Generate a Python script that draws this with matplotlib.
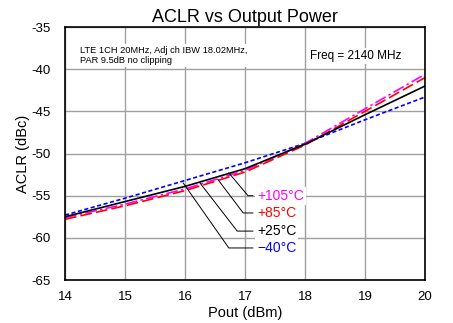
import matplotlib
matplotlib.use("Agg")
import matplotlib.pyplot as plt

plt.rcParams["font.family"] = ["Liberation Sans", "DejaVu Sans"]
plt.rcParams["axes.unicode_minus"] = False

pout = [14, 15, 16, 17, 18, 19, 20]
aclr_m40 = [-57.3, -55.3, -53.2, -51.1, -48.8, -46.0, -43.3]
aclr_p25 = [-57.5, -55.7, -53.9, -51.8, -48.9, -45.4, -42.0]
aclr_p85 = [-57.8, -56.2, -54.4, -52.2, -49.0, -45.0, -41.0]
aclr_p105 = [-57.6, -56.0, -54.2, -52.0, -48.8, -44.7, -40.6]

labels = ["+105°C", "+85°C", "+25°C", "\u221240°C"]
colors = ["#ff00ff", "#ff0000", "#000000", "#0000ff"]
# leader lines: point on curve, knee (at label height)
lead_start = [(16.73, -52.3), (16.55, -53.1), (16.25, -53.5), (15.97, -53.5)]
lead_knee = [(17.05, -55.0), (16.97, -57.05), (16.87, -59.2), (16.73, -61.2)]

fig = plt.figure(figsize=(4.53, 3.23), dpi=100)
ax = fig.add_axes([0.1435, 0.1331, 0.7947, 0.7833])

ax.plot(pout, aclr_m40, color="#0000ff", lw=1.2, ls=(0, (2.5, 1.5)))
ax.plot(pout, aclr_p105, color="#ff00ff", lw=1.2, ls=(0, (7, 2, 1.5, 2)))
ax.plot(pout, aclr_p85, color="#ff0000", lw=1.2, ls=(0, (7, 2.5)))
ax.plot(pout, aclr_p25, color="#000000", lw=1.2)

for lab, col, s, k in zip(labels, colors, lead_start, lead_knee):
    ax.plot([s[0], k[0], 17.13], [s[1], k[1], k[1]], color="black", lw=0.7)
    ax.text(17.2, k[1], lab, color=col, fontsize=10, va="center", ha="left",
            bbox=dict(facecolor="white", edgecolor="none", pad=1.5), zorder=4)

ax.text(14.25, -37.2, "LTE 1CH 20MHz, Adj ch IBW 18.02MHz,\nPAR 9.5dB no clipping",
        fontsize=6.7, va="top", ha="left", linespacing=1.2,
        bbox=dict(facecolor="white", edgecolor="none", pad=1.5), zorder=4)
ax.text(18.08, -38.4, "Freq = 2140 MHz", fontsize=8.5, va="center", ha="left",
        bbox=dict(facecolor="white", edgecolor="none", pad=1.5), zorder=4)

ax.set_xlim(14, 20)
ax.set_ylim(-65, -35)
ax.set_xticks(range(14, 21))
ax.set_yticks(range(-65, -34, 5))
ax.grid(True, color="#a0a0a0", lw=1.0)
ax.set_axisbelow(True)
ax.tick_params(length=0, labelsize=9.5)
ax.tick_params(axis="x", pad=8)
ax.tick_params(axis="y", pad=10)
for sp in ax.spines.values():
    sp.set_linewidth(1.2)

ax.set_title("ACLR vs Output Power", fontsize=13, pad=3.6)
ax.set_xlabel("Pout (dBm)", fontsize=10.5, labelpad=2)
ax.set_ylabel("ACLR (dBc)", fontsize=10.5, labelpad=1)

fig.savefig("out.png", dpi=100)
